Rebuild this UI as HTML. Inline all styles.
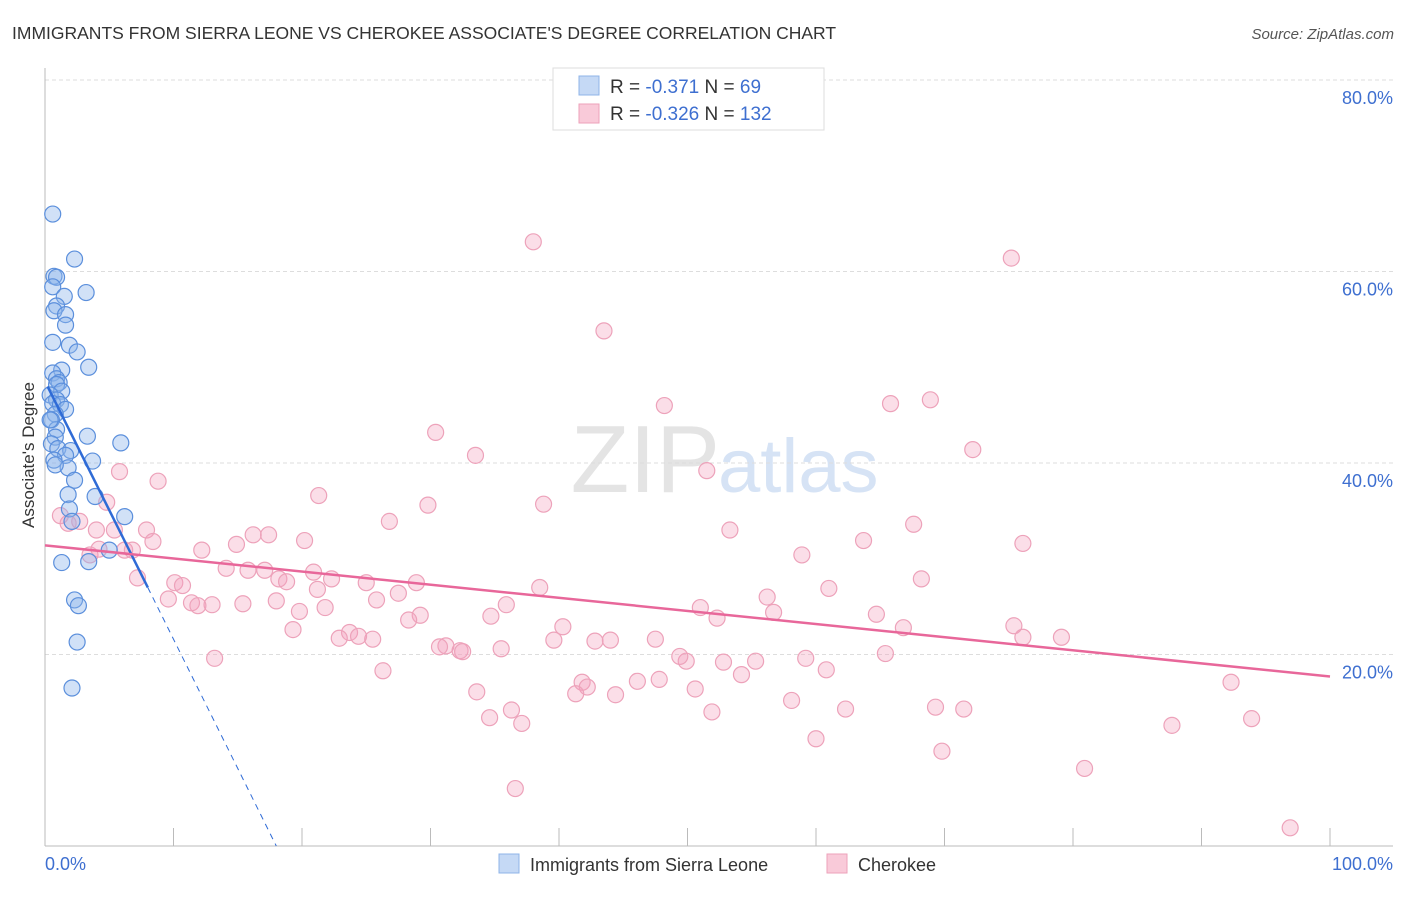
<!DOCTYPE html>
<html><head><meta charset="utf-8"><style>
body{margin:0;background:#fff;font-family:"Liberation Sans",sans-serif}
svg text{font-family:"Liberation Sans",sans-serif}
</style></head><body>
<svg id="c" width="1406" height="892" xmlns="http://www.w3.org/2000/svg">
<text x="12" y="39" font-size="17.5" fill="#333">IMMIGRANTS FROM SIERRA LEONE VS CHEROKEE ASSOCIATE'S DEGREE CORRELATION CHART</text>
<text x="1394" y="39" font-size="15" fill="#555" font-style="italic" text-anchor="end">Source: ZipAtlas.com</text>
<text x="720" y="492" font-size="96" fill="#e4e4e4" text-anchor="end" font-family="Liberation Serif">ZIP</text>
<text x="718" y="492" font-size="76" fill="#d6e3f5">atlas</text>
<text transform="translate(34,455) rotate(-90)" font-size="17" fill="#333" text-anchor="middle">Associate's Degree</text>
<g id="grid"></g><g id="pts"></g><g id="trend"></g>
<g>
<rect x="553" y="68" width="271" height="62" fill="#fff" stroke="#ddd"/>
<rect x="579" y="76" width="20" height="19" fill="#c5d9f5" stroke="#8fb4e8"/>
<rect x="579" y="104" width="20" height="19" fill="#f9cad9" stroke="#eda2ba"/>
<text x="610" y="93" font-size="19" fill="#333">R = <tspan fill="#3e6fd0">-0.371</tspan>   N = <tspan fill="#3e6fd0"> 69</tspan></text>
<text x="610" y="120" font-size="19" fill="#333">R = <tspan fill="#3e6fd0">-0.326</tspan>   N = <tspan fill="#3e6fd0">132</tspan></text>
</g>
<text x="45" y="870" font-size="18" fill="#3e6fd0">0.0%</text>
<text x="1393" y="870" font-size="18" fill="#3e6fd0" text-anchor="end">100.0%</text>
<g>
<rect x="499" y="854" width="20" height="19" fill="#c5d9f5" stroke="#8fb4e8"/>
<text x="530" y="871" font-size="18" fill="#333">Immigrants from Sierra Leone</text>
<rect x="827" y="854" width="20" height="19" fill="#f9cad9" stroke="#eda2ba"/>
<text x="858" y="871" font-size="18" fill="#333">Cherokee</text>
</g>
</svg>
<script>
const yTicks=[20,40,60,80];
const xTicks=[0,10,20,30,40,50,60,70,80,90,100];
const blueX=[0.6,2.3,0.7,0.9,0.6,3.2,1.5,0.9,0.7,1.6,1.6,0.6,1.9,2.5,3.4,1.3,0.6,0.9,1.1,0.9,1.3,0.4,0.9,0.6,1.2,1.6,0.8,0.5,0.9,0.8,3.3,5.9,0.5,1,2,1.6,3.7,0.7,1.8,2.3,1.8,3.9,1.9,6.2,2.1,5,1.3,3.4,2.3,2.6,2.5,2.1,0.4,0.8];
const blueY=[66,61.3,59.5,59.4,58.4,57.8,57.4,56.4,55.9,55.5,54.4,52.6,52.3,51.6,50,49.7,49.4,48.8,48.4,48.2,47.5,47.1,46.6,46.2,46.1,45.6,45.1,44.5,43.5,42.7,42.8,42.1,42,41.5,41.3,40.8,40.2,40.3,39.5,38.2,36.7,36.5,35.2,34.4,33.9,30.9,29.6,29.7,25.7,25.1,21.3,16.5,44.5,39.8];
const pinkX=[38,75.2,43.5,48.2,65.8,68.9,30.4,33.5,72.2,51.5,5.8,8.8,21.3,4.8,29.8,38.8,26.8,53.3,67.6,76.1,58.9,63.7,1.2,2.7,1.8,4,5.4,7.9,8.4,14.9,16.2,17.4,20.2,12.2,6.2,6.8,3.5,4.2,14.1,15.8,17.1,18.2,20.9,18.8,22.3,7.2,10.1,10.7,9.6,13,15.4,18,21.2,25,28.9,38.5,25.8,27.5,61,68.2,56.2,35.9,34.7,29.2,28.3,21.8,19.8,11.4,11.9,56.7,51,52.3,64.7,66.8,40.3,75.4,79.1,23.7,22.9,25.5,19.3,24.4,31.2,30.7,32.3,32.5,35.5,39.6,42.8,44,47.5,49.9,49.4,52.8,55.3,60.8,59.2,65.4,13.2,26.3,46.1,47.8,41.8,42.2,41.3,44.4,33.6,54.2,50.6,58.1,62.3,69.3,71.5,34.6,37.1,36.3,51.9,87.7,93.9,92.3,60,69.8,80.9,36.6,96.9,76.1];
const pinkY=[63.1,61.4,53.8,46,46.2,46.6,43.2,40.8,41.4,39.2,39.1,38.1,36.6,35.9,35.6,35.7,33.9,33,33.6,31.6,30.4,31.9,34.5,33.9,33.7,33,33,33,31.8,31.5,32.5,32.5,31.9,30.9,30.9,30.9,30.4,31,29,28.8,28.8,27.9,28.6,27.6,27.9,28,27.5,27.2,25.8,25.2,25.3,25.6,26.8,27.5,27.5,27,25.7,26.4,26.9,27.9,26,25.2,24,24.1,23.6,24.9,24.5,25.4,25.1,24.4,24.9,23.8,24.2,22.8,22.9,23,21.8,22.3,21.7,21.6,22.6,21.9,20.9,20.8,20.4,20.3,20.6,21.5,21.4,21.5,21.6,19.3,19.8,19.2,19.3,18.4,19.6,20.1,19.6,18.3,17.2,17.4,17.1,16.6,15.9,15.8,16.1,17.9,16.4,15.2,14.3,14.5,14.3,13.4,12.8,14.2,14,12.6,13.3,17.1,11.2,9.9,8.1,6,1.9,21.8];
const X=v=>45+v*12.85, Y=v=>846-v*9.575;
const NS="http://www.w3.org/2000/svg";
function mk(t,a,p){const e=document.createElementNS(NS,t);for(const k in a)e.setAttribute(k,a[k]);p.appendChild(e);return e;}
const g=document.getElementById('grid');
yTicks.forEach(v=>{const l=mk('line',{x1:45,x2:1393,y1:Y(v),y2:Y(v),stroke:'#ddd','stroke-dasharray':'4,3'},g);


const t=mk('text',{x:1393,y:Y(v)+24,'font-size':18,fill:'#3e6fd0','text-anchor':'end'},g);t.textContent=v.toFixed(1)+'%';

});
const ax=mk('line',{x1:45,x2:1393,y1:846,y2:846,stroke:'#bbb'},g);


const ay=mk('line',{x1:45,x2:45,y1:68,y2:846,stroke:'#bbb'},g);


xTicks.forEach(v=>{const l=mk('line',{x1:X(v),x2:X(v),y1:828,y2:846,stroke:'#bbb'},g);

});
const P=document.getElementById('pts');
pinkX.forEach((x,i)=>{const c=mk('circle',{cx:X(x),cy:Y(pinkY[i]),r:8,fill:'rgba(243,160,188,0.35)',stroke:'#eda2ba','stroke-width':1.2},P);

});
blueX.forEach((x,i)=>{const c=mk('circle',{cx:X(x),cy:Y(blueY[i]),r:8,fill:'rgba(140,180,235,0.4)',stroke:'#5b8fdc','stroke-width':1.2},P);

});
const T=document.getElementById('trend');
const b=mk('line',{x1:X(0.2),y1:Y(48),x2:X(8),y2:Y(27),stroke:'#2f6bd6','stroke-width':2.5},T);


const bd=mk('line',{x1:X(8),y1:Y(27),x2:X(18),y2:Y(0),stroke:'#2f6bd6','stroke-width':1,'stroke-dasharray':'6,5'},T);


const p=mk('line',{x1:X(0),y1:Y(31.4),x2:X(100),y2:Y(17.7),stroke:'#e8679a','stroke-width':2.5},T);


</script>
</body></html>
